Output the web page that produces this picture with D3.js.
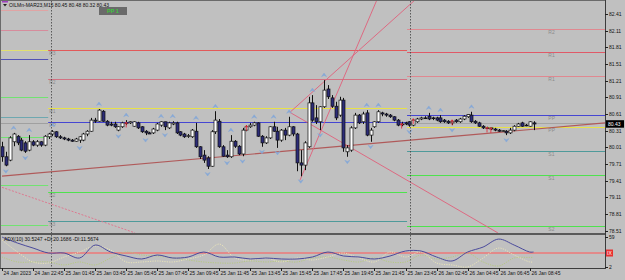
<!DOCTYPE html>
<html><head><meta charset="utf-8">
<script src="https://cdn.jsdelivr.net/npm/d3@7"></script>
<style>
html,body{margin:0;padding:0;background:#c0c0c0;overflow:hidden;}
svg{display:block;font-family:"Liberation Sans",Arial,sans-serif;}
</style></head><body>
<svg id="c" width="625" height="280"></svg>
<script>
// ---------- DATA ----------
const open  = [80.02,79.84,79.78,80.11,80.21,80.14,80.09,79.96,80.11,80.05,80.11,80.05,80.20,80.25,80.29,80.20,80.18,80.16,80.14,80.12,
80.14,80.14,80.25,80.30,80.50,80.48,80.66,80.48,80.43,80.43,80.32,80.38,80.45,80.45,80.39,80.45,80.38,80.30,80.27,80.27,
80.32,80.41,80.47,80.36,80.43,80.45,80.29,80.25,80.21,80.20,80.30,80.02,79.87,79.82,79.67,80.29,80.48,80.02,79.87,79.84,
80.12,80.03,79.89,80.32,80.38,80.41,80.45,80.21,80.09,80.18,80.38,80.30,80.14,80.32,80.23,80.38,80.25,79.73,79.69,80.02,
80.81,80.54,80.47,80.74,81.06,80.90,80.75,80.59,80.86,79.93,79.96,80.36,80.59,80.47,80.63,80.23,80.38,80.47,80.63,80.61,
80.59,80.56,80.50,80.43,80.45,80.47,80.41,80.47,80.52,80.54,80.57,80.54,80.54,80.54,80.50,80.48,80.45,80.50,80.47,80.52,
80.56,80.59,80.48,80.45,80.39,80.36,80.36,80.34,80.32,80.30,80.30,80.27,80.32,80.39,80.45,80.41,80.39,80.45];
const high  = [80.11,79.93,80.21,80.27,80.23,80.18,80.12,80.23,80.14,80.14,80.12,80.23,80.27,80.32,80.30,80.23,80.20,80.18,80.16,80.18,
80.21,80.27,80.32,80.54,80.54,80.70,80.68,80.50,80.47,80.47,80.39,80.47,80.50,80.48,80.48,80.47,80.39,80.32,80.29,80.36,
80.45,80.48,80.47,80.47,80.48,80.47,80.30,80.27,80.25,80.34,80.45,80.03,79.96,79.85,80.32,80.66,80.52,80.05,79.96,80.23,
80.14,80.05,80.36,80.41,80.45,80.47,80.46,80.23,80.21,80.39,80.47,80.38,80.34,80.36,80.56,80.39,80.27,79.96,80.12,80.92,
80.95,80.77,80.75,81.22,81.13,80.95,80.83,80.92,80.90,80.05,80.39,80.63,80.61,80.65,80.68,80.36,80.48,80.68,80.65,80.63,
80.61,80.57,80.52,80.47,80.47,80.48,80.52,80.54,80.56,80.57,80.63,80.56,80.56,80.59,80.52,80.50,80.50,80.52,80.54,80.59,
80.61,80.65,80.50,80.47,80.41,80.38,80.36,80.36,80.34,80.32,80.32,80.36,80.41,80.45,80.47,80.43,80.48,80.48];
const low   = [79.75,79.67,79.76,80.03,80.05,79.94,79.91,79.94,80.03,80.02,80.02,80.03,80.16,80.21,80.18,80.16,80.14,80.12,80.11,80.11,
80.09,80.12,80.21,80.29,80.45,80.47,80.47,80.39,80.39,80.36,80.30,80.36,80.41,80.43,80.38,80.34,80.27,80.23,80.25,80.25,
80.30,80.38,80.32,80.34,80.41,80.25,80.21,80.18,80.18,80.18,80.00,79.80,79.73,79.62,79.66,80.25,80.00,79.84,79.82,79.82,
80.00,79.87,79.85,80.30,80.36,80.39,80.20,80.02,80.07,80.16,80.29,80.00,80.11,80.14,80.21,80.21,79.58,79.49,79.60,80.00,
80.47,80.43,80.32,80.72,80.88,80.72,80.50,80.56,79.93,79.84,79.93,80.34,80.43,80.43,80.21,80.11,80.36,80.45,80.57,80.56,
80.54,80.48,80.39,80.39,80.41,80.38,80.39,80.45,80.50,80.52,80.50,80.50,80.48,80.45,80.45,80.43,80.41,80.45,80.45,80.50,
80.54,80.45,80.43,80.38,80.34,80.34,80.32,80.30,80.29,80.29,80.23,80.25,80.30,80.38,80.38,80.39,80.38,80.32];
const close = [79.84,79.69,80.18,80.25,80.09,79.96,79.94,80.11,80.05,80.11,80.05,80.21,80.25,80.29,80.20,80.18,80.16,80.14,80.12,80.16,
80.20,80.25,80.30,80.50,80.48,80.68,80.48,80.41,80.41,80.38,80.38,80.45,80.44,80.47,80.47,80.36,80.29,80.27,80.25,80.34,
80.43,80.47,80.38,80.45,80.45,80.27,80.23,80.20,80.22,80.32,80.02,79.84,79.78,79.67,80.29,80.50,80.02,79.85,79.84,80.12,
80.03,79.89,80.32,80.38,80.41,80.45,80.21,80.09,80.18,80.38,80.30,80.14,80.32,80.23,80.38,80.25,79.73,79.69,80.09,80.81,
80.50,80.47,80.74,81.04,80.92,80.75,80.54,80.86,80.00,80.00,80.36,80.59,80.45,80.61,80.23,80.32,80.47,80.65,80.61,80.59,
80.56,80.50,80.41,80.42,80.43,80.41,80.50,80.52,80.54,80.53,80.52,80.53,80.50,80.47,80.47,80.45,80.48,80.47,80.52,80.57,
80.60,80.47,80.45,80.39,80.36,80.35,80.34,80.32,80.30,80.31,80.27,80.32,80.39,80.43,80.39,80.40,80.47,80.43];

const fractalUp   = [3,7,13,25,32,41,44,50,55,59,65,70,74,80,83,94,97,110,113,121];
const fractalDown = [1,6,20,30,37,42,53,58,62,67,71,77,82,89,95,105,116,130];
const redMarks    = [32,63,103,106,116,125,126];

const timeLabels = ["24 Jan 2023","24 Jan 22:45","25 Jan 01:45","25 Jan 03:45","25 Jan 05:45","25 Jan 07:45",
"25 Jan 09:45","25 Jan 11:45","25 Jan 13:45","25 Jan 15:45","25 Jan 17:45","25 Jan 19:45","25 Jan 21:45",
"25 Jan 23:45","26 Jan 02:45","26 Jan 04:45","26 Jan 06:45","26 Jan 08:45"];
const priceTicks = [82.41,82.11,81.81,81.51,81.21,80.91,80.61,80.31,80.01,79.71,79.41,79.11,78.81,78.51];

// pivot levels per session
const day1Levels = [82.48,82.12,81.76,81.60,80.92,80.56,80.45,80.20,79.33,78.61];
const day2Levels = [81.76,81.24,80.72,80.47,79.21,78.68];
const day2Labels = ["R3","R2","R1","PP","S2","S3"];
const day3Levels = [82.14,81.73,81.29,80.59,80.45,80.38,79.94,79.51,78.59];
const day3Labels = ["R2","R1","R1","PP","","PP","S1","S1","S2"];
const sessionBounds = [0,11.9,104.4,155.5];
const daySplits = [12.75,105.1];

// trend lines (bar index, price)
const trendBar1 = [0,74.2,76.8,74.2,0];
const trendP1   = [79.49,80.64,79.42,80.64,79.29];
const trendBar2 = [155.5,107.2,96.6,127.8,34.3];
const trendP2   = [80.45,82.71,82.66,78.47,78.47];

// ADX(10) sampled every 4 bars
const adxBars = [0,4,8,12,16,20,24,28,32,36,40,44,48,52,56,60,64,68,72,76,80,84,88,92,96,100,104,108,112,116,120,124,128,132,136,137];
const adx    = [59,47.6,38.1,28.6,28.6,19.1,43.8,30.5,22.9,17.2,24.8,19.1,21,30.5,21,21,17.2,19.1,17.2,17.2,21,30.5,22.9,21,17.2,22.9,32.4,32.4,21,13.4,30.5,40,55.2,43.8,30.5,30.52];
const plusDI = [21,11.5,11.5,11.5,5.8,11.5,5.8,19.1,30.5,24.8,22.9,19.1,15.3,11.5,9.6,9.6,13.4,11.5,13.4,11.5,19.1,21,15.3,11.5,19.1,11.5,11.5,24.8,17.2,21,28.6,11.5,3.9,19.1,20.2,20.17];
const minusDI= [53.3,30.5,11.5,9.6,21,30.5,41.9,34.3,11.5,11.5,13.4,11.5,17.2,24.8,45.7,19.1,15.3,19.1,11.5,19.1,15.3,21,28.6,19.1,11.5,30.5,21,30.5,9.6,5.8,2,19.1,38.1,24.8,11.6,11.57];
const adxLevel = 28.6;
const adxAxis = [59,2];

// ---------- DRAW ----------
const svg = d3.select("#c");
const W=625, plotR=605, mainTop=1, mainBot=233, indTop=235, indBot=268;
const x = d3.scaleLinear().domain([0,137]).range([2,2+3.88*137]);
const y = d3.scaleLinear().domain([78.468,82.644]).range([mainBot,mainTop]);
const yi = d3.scaleLinear().domain([0,63]).range([indBot,indTop]);

svg.append("rect").attr("width",W).attr("height",280).attr("fill","#c0c0c0");

const defs = svg.append("defs");
defs.append("clipPath").attr("id","mainClip").append("rect").attr("x",1).attr("y",mainTop).attr("width",plotR-1).attr("height",mainBot-mainTop);
defs.append("clipPath").attr("id","indClip").append("rect").attr("x",1).attr("y",indTop).attr("width",plotR-1).attr("height",indBot-indTop);

const main = svg.append("g").attr("clip-path","url(#mainClip)");

// pivot lines
const d1Colors=["#e0a4a4","#d68c9c","#e2e070","#5252b4","#72e272","#6ea8b0","#a0a0a0","#72e272","#72e272","#72e272"];
const d2Colors=["#e25a5a","#d27282","#e8e248","#4646d2","#4ee24e","#4f9a9a"];
const d3Colors=["#e08890","#e05a68","#e08890","#4646d2","#a4a4a4","#e8e248","#4f9a9a","#4ee24e","#4ee24e"];
function levels(arr,cols,b0,b1){
  main.selectAll(null).data(arr).enter().append("line")
    .attr("x1",x(b0)).attr("x2",x(b1))
    .attr("y1",d=>Math.round(y(d))+0.5).attr("y2",d=>Math.round(y(d))+0.5)
    .attr("stroke",(d,i)=>cols[i]).attr("stroke-width",1);
}
levels(day1Levels,d1Colors,sessionBounds[0]-1,sessionBounds[1]);
levels(day2Levels,d2Colors,sessionBounds[1],sessionBounds[2]);
levels(day3Levels,d3Colors,sessionBounds[2],sessionBounds[3]);
main.selectAll(null).data(day2Levels).enter().append("text")
  .attr("x",x(sessionBounds[1])+1).attr("y",d=>y(d)+5).text((d,i)=>day2Labels[i])
  .attr("font-size",5).attr("fill","#8c8c8c");
main.selectAll(null).data(day3Levels).enter().append("text")
  .attr("x",x(140.8)).attr("y",d=>y(d)+5).text((d,i)=>day3Labels[i])
  .attr("font-size",5).attr("fill","#8c8c8c");

// trend lines
const tColors=["#b05a5a","#e0607a","#e0607a","#e0607a","#e0708a"];
const tDash=[null,null,null,null,"2,1.5"];
trendBar1.forEach((b,i)=>{
  main.append("line").attr("x1",x(b)).attr("y1",y(trendP1[i])).attr("x2",x(trendBar2[i])).attr("y2",y(trendP2[i]))
    .attr("stroke",tColors[i]).attr("stroke-width",i===0?1.2:0.9).attr("stroke-dasharray",tDash[i]);
});

// day separators
daySplits.forEach(b=>{
  svg.append("line").attr("x1",Math.round(x(b))+0.5).attr("x2",Math.round(x(b))+0.5).attr("y1",mainTop).attr("y2",indBot)
    .attr("stroke","#404040").attr("stroke-dasharray","1.5,1.5").attr("stroke-width",0.8);
});

// candles
const idx = d3.range(close.length);
main.selectAll(null).data(idx).enter().append("line")
  .attr("x1",i=>Math.round(x(i))+0.5).attr("x2",i=>Math.round(x(i))+0.5)
  .attr("y1",i=>y(high[i])).attr("y2",i=>y(low[i]))
  .attr("stroke","#101010").attr("stroke-width",1);
main.selectAll(null).data(idx).enter().append("rect")
  .attr("x",i=>Math.round(x(i))-1)
  .attr("y",i=>y(Math.max(open[i],close[i])))
  .attr("width",3)
  .attr("height",i=>Math.max(0.8,Math.abs(y(open[i])-y(close[i]))))
  .attr("fill",i=>close[i]>=open[i]?"#ffffff":"#2c2c78")
  .attr("stroke","#101010").attr("stroke-width",0.7);

// fractals
const fr = "#86a8d6";
main.selectAll(null).data(fractalUp).enter().append("path")
  .attr("transform",i=>`translate(${x(i)},${y(high[i])-5})`)
  .attr("d","M-2.5,1.5 L0,-2 L2.5,1.5 L0,0.3 Z").attr("fill",fr).attr("stroke",fr).attr("stroke-width",0.5);
main.selectAll(null).data(fractalDown).enter().append("path")
  .attr("transform",i=>`translate(${x(i)},${y(low[i])+5})`)
  .attr("d","M-2.5,-1.5 L0,2 L2.5,-1.5 L0,-0.3 Z").attr("fill",fr).attr("stroke",fr).attr("stroke-width",0.5);
// red arrows
main.selectAll(null).data(redMarks).enter().append("path")
  .attr("transform",i=>`translate(${x(i)},${y(close[i])+1})`)
  .attr("d","M0,3 L0,-2 M-1.3,-0.5 L0,-2.5 L1.3,-0.5").attr("fill","none").attr("stroke","#e03040").attr("stroke-width",0.9);

// frame
svg.append("line").attr("x1",0).attr("x2",plotR).attr("y1",0.5).attr("y2",0.5).attr("stroke","#6a6a6a");
svg.append("line").attr("x1",0.5).attr("x2",0.5).attr("y1",0).attr("y2",indBot).attr("stroke","#6a6a6a");
svg.append("line").attr("x1",plotR+0.5).attr("x2",plotR+0.5).attr("y1",0).attr("y2",indBot+1).attr("stroke","#3c3c3c");
svg.append("rect").attr("x",0).attr("y",mainBot).attr("width",plotR).attr("height",2).attr("fill","#5a5a5a");
svg.append("line").attr("x1",0).attr("x2",plotR+1).attr("y1",indBot+0.5).attr("y2",indBot+0.5).attr("stroke","#3c3c3c");

// price axis
const ax = svg.append("g");
priceTicks.forEach(p=>{
  const yy=Math.round(y(p))+0.5;
  ax.append("line").attr("x1",plotR).attr("x2",plotR+3).attr("y1",yy).attr("y2",yy).attr("stroke","#202020");
  ax.append("text").attr("x",plotR+4).attr("y",yy+1.8).text(p.toFixed(2)).attr("font-size",5).attr("fill","#101010");
});
// current price box
const last = close[close.length-1];
ax.append("rect").attr("x",plotR+1).attr("y",y(last)-3.8).attr("width",18).attr("height",7.5).attr("fill","#000");
ax.append("text").attr("x",plotR+3).attr("y",y(last)+1.8).text(last.toFixed(2)).attr("font-size",5).attr("fill","#fff");

// title
svg.append("rect").attr("x",2).attr("y",1).attr("width",6).attr("height",1.5).attr("fill","#a040c0");
svg.append("path").attr("d","M3,4 L7,4 L5,6.5 Z").attr("fill","#202020");
svg.append("text").attr("x",9).attr("y",7).attr("font-size",5).attr("fill","#101010")
  .text("OILMn-MAR23,M15  80.45 80.48 80.32 80.43");
svg.append("rect").attr("x",99).attr("y",7).attr("width",28).attr("height",8).attr("fill","#6a6a6a");
svg.append("text").attr("x",113).attr("y",13).attr("text-anchor","middle").attr("font-size",5.5).attr("font-weight","bold").attr("fill","#3cc83c").text("PP 1");

// indicator panel
const ind = svg.append("g").attr("clip-path","url(#indClip)");
ind.append("line").attr("x1",0).attr("x2",plotR).attr("y1",yi(adxLevel)).attr("y2",yi(adxLevel)).attr("stroke","#e28a8a").attr("stroke-width",2);
const ln = d3.line().x((d,i)=>x(adxBars[i])).y(d=>yi(d)).curve(d3.curveCatmullRom.alpha(0.5));
ind.append("path").attr("d",ln(plusDI)).attr("fill","none").attr("stroke","#b4c87a").attr("stroke-width",0.9).attr("stroke-dasharray","1.2,1.2");
ind.append("path").attr("d",ln(minusDI)).attr("fill","none").attr("stroke","#ece6b8").attr("stroke-width",0.9).attr("stroke-dasharray","1.2,1.2");
ind.append("path").attr("d",ln(adx)).attr("fill","none").attr("stroke","#4a4a9c").attr("stroke-width",1);
svg.append("text").attr("x",4).attr("y",241).attr("font-size",5).attr("fill","#101010")
  .text("ADX(10) 30.5247 +DI:20.1686 -DI:11.5674");
adxAxis.forEach(v=>{
  const yy=Math.round(yi(v))+0.5;
  svg.append("line").attr("x1",plotR).attr("x2",plotR+3).attr("y1",yy).attr("y2",yy).attr("stroke","#202020");
  svg.append("text").attr("x",plotR+4).attr("y",yy+1.8).text(v).attr("font-size",5).attr("fill","#101010");
});
svg.append("rect").attr("x",plotR+1).attr("y",yi(adxLevel)-3.5).attr("width",7).attr("height",7).attr("fill","#e83030");
svg.append("text").attr("x",plotR+2).attr("y",yi(adxLevel)+1.8).text("IX").attr("font-size",5).attr("fill","#fff");

// time axis
timeLabels.forEach((t,k)=>{
  const xx = Math.round(x(k*8))+0.5;
  svg.append("line").attr("x1",xx).attr("x2",xx).attr("y1",indBot).attr("y2",indBot+3).attr("stroke","#202020");
  svg.append("text").attr("x",xx+1).attr("y",275).attr("font-size",5).attr("fill","#101010").text(t);
});
</script>
</body></html>
